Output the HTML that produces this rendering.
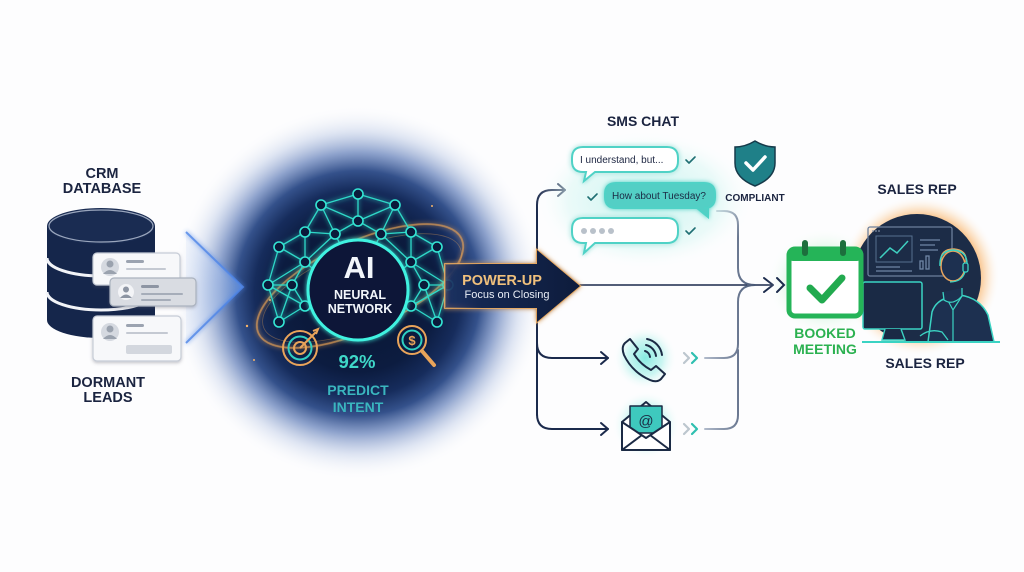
<!DOCTYPE html>
<html><head><meta charset="utf-8"><style>
html,body{margin:0;padding:0;background:#fff;}
svg{display:block;}
text{font-family:"Liberation Sans",Arial,sans-serif;}
</style></head><body>
<svg width="1024" height="572" viewBox="0 0 1024 572" xmlns="http://www.w3.org/2000/svg">
<defs>
<radialGradient id="dark" cx="358" cy="293" r="188" gradientUnits="userSpaceOnUse">
<stop offset="0" stop-color="#081530"/>
<stop offset="0.42" stop-color="#0c1c40"/>
<stop offset="0.55" stop-color="#162c5c"/>
<stop offset="0.65" stop-color="#34518b"/>
<stop offset="0.75" stop-color="#7b93c4" stop-opacity="0.85"/>
<stop offset="0.86" stop-color="#c5d1e9" stop-opacity="0.55"/>
<stop offset="1" stop-color="#ffffff" stop-opacity="0"/>
</radialGradient>
<linearGradient id="chev" x1="186" y1="0" x2="243" y2="0" gradientUnits="userSpaceOnUse">
<stop offset="0" stop-color="#d6e2f6" stop-opacity="0.3"/>
<stop offset="0.6" stop-color="#a9c2ee" stop-opacity="0.6"/>
<stop offset="1" stop-color="#5d8ee0" stop-opacity="0.85"/>
</linearGradient>
<linearGradient id="pw" x1="440" y1="0" x2="580" y2="0" gradientUnits="userSpaceOnUse">
<stop offset="0" stop-color="#1e3566" stop-opacity="0.4"/>
<stop offset="0.3" stop-color="#132650"/>
<stop offset="1" stop-color="#0e1c3c"/>
</linearGradient>
<linearGradient id="coll" x1="700" y1="0" x2="760" y2="0" gradientUnits="userSpaceOnUse">
<stop offset="0" stop-color="#b9c3d2"/>
<stop offset="1" stop-color="#3d4d6c"/>
</linearGradient>
<radialGradient id="tealglow">
<stop offset="0" stop-color="#7fe9df" stop-opacity="0.95"/>
<stop offset="0.55" stop-color="#a9f0e9" stop-opacity="0.6"/>
<stop offset="1" stop-color="#ffffff" stop-opacity="0"/>
</radialGradient>
<radialGradient id="greenglow">
<stop offset="0" stop-color="#8be6a6" stop-opacity="0.9"/>
<stop offset="0.6" stop-color="#bff1cd" stop-opacity="0.5"/>
<stop offset="1" stop-color="#ffffff" stop-opacity="0"/>
</radialGradient>
<radialGradient id="orglow">
<stop offset="0.7" stop-color="#f7a550" stop-opacity="0.9"/>
<stop offset="0.85" stop-color="#fbd2a4" stop-opacity="0.5"/>
<stop offset="1" stop-color="#ffffff" stop-opacity="0"/>
</radialGradient>
<radialGradient id="smsglow" cx="0.5" cy="0.5" r="0.5">
<stop offset="0" stop-color="#bff2ec" stop-opacity="0.9"/>
<stop offset="0.7" stop-color="#def8f5" stop-opacity="0.6"/>
<stop offset="1" stop-color="#ffffff" stop-opacity="0"/>
</radialGradient>
<filter id="glowT" x="-30%" y="-30%" width="160%" height="160%">
<feGaussianBlur in="SourceGraphic" stdDeviation="2.5" result="b"/>
<feMerge><feMergeNode in="b"/><feMergeNode in="SourceGraphic"/></feMerge>
</filter>
<filter id="shadow" x="-20%" y="-20%" width="140%" height="160%">
<feDropShadow dx="0" dy="1.5" stdDeviation="1.5" flood-color="#556" flood-opacity="0.35"/>
</filter>
</defs>

<rect width="1024" height="572" fill="#fdfdfe"/>

<!-- center dark glow -->
<circle cx="358" cy="293" r="188" fill="url(#dark)"/>

<!-- left chevron -->
<polygon points="186,232 243,287 186,343" fill="url(#chev)"/>
<polyline points="186,232 243,287 186,343" fill="none" stroke="#4f86e8" stroke-width="2" opacity="0.85" filter="url(#glowT)"/>

<!-- CRM labels -->
<g font-weight="bold" font-size="14.5" fill="#1b2440" text-anchor="middle">
<text x="102" y="178">CRM</text>
<text x="102" y="193">DATABASE</text>
<text x="108" y="387">DORMANT</text>
<text x="108" y="402">LEADS</text>
</g>

<!-- database -->
<path d="M47,226 V320 A54,18 0 0 0 155,320 V226 Z" fill="#15264b"/>
<ellipse cx="101" cy="226" rx="54" ry="18" fill="#1a2c52"/>
<ellipse cx="101" cy="226" rx="52" ry="16" fill="none" stroke="#9aa6bd" stroke-width="1.2"/>
<path d="M47,258 A54,18 0 0 0 155,258" fill="none" stroke="#f2f4f8" stroke-width="3"/>
<path d="M47,292 A54,18 0 0 0 155,292" fill="none" stroke="#f2f4f8" stroke-width="3"/>

<!-- cards -->
<g filter="url(#shadow)">
<rect x="93" y="253" width="87" height="32" rx="4" fill="#f7f8fa" stroke="#c6ccd6" stroke-width="1.2"/>
<rect x="110" y="278" width="86" height="28" rx="4" fill="#d9dce2" stroke="#aab2be" stroke-width="1.2"/>
<rect x="93" y="316" width="88" height="45" rx="4" fill="#f7f8fa" stroke="#c6ccd6" stroke-width="1.2"/>
</g>
<circle cx="110" cy="267" r="9" fill="#d5d9e0"/>
<circle cx="110" cy="264" r="3.5" fill="#9aa2ae"/><path d="M103,274 Q110,266 117,274" fill="#9aa2ae"/>
<rect x="126" y="260" width="18" height="3" rx="1.5" fill="#9ba3b0"/>
<rect x="126" y="268" width="40" height="2" rx="1" fill="#c4c9d2"/>
<circle cx="126" cy="292" r="8" fill="#f3f4f7"/>
<circle cx="126" cy="289.5" r="3" fill="#8d95a3"/><path d="M120,298 Q126,291 132,298" fill="#8d95a3"/>
<rect x="141" y="285" width="18" height="3" rx="1.5" fill="#8d95a3"/>
<rect x="141" y="293" width="42" height="2" rx="1" fill="#a6adb9"/>
<rect x="141" y="299" width="30" height="2" rx="1" fill="#a6adb9"/>
<circle cx="110" cy="332" r="9" fill="#d5d9e0"/>
<circle cx="110" cy="329" r="3.5" fill="#9aa2ae"/><path d="M103,339 Q110,331 117,339" fill="#9aa2ae"/>
<rect x="126" y="324" width="18" height="3" rx="1.5" fill="#9ba3b0"/>
<rect x="126" y="332" width="42" height="2" rx="1" fill="#c4c9d2"/>
<rect x="126" y="345" width="46" height="9" rx="2" fill="#d3d7de"/>

<!-- orange orbit -->
<g fill="none" stroke="#f0a654" stroke-linecap="round">
<ellipse cx="360" cy="286" rx="112" ry="44" transform="rotate(-25 360 286)" stroke-width="1.8" opacity="0.7" filter="url(#glowT)"/>
<ellipse cx="362" cy="288" rx="106" ry="40" transform="rotate(-22 362 288)" stroke-width="0.8" opacity="0.35"/>
</g>
<g fill="#f6b469">
<circle cx="247" cy="326" r="1.2"/><circle cx="254" cy="360" r="1"/><circle cx="432" cy="206" r="1"/><circle cx="270" cy="300" r="1"/>
</g>

<!-- neural network -->
<g stroke="#2fd9c8" stroke-width="1.3" fill="none" filter="url(#glowT)">
<path d="M358,194 L321,205 M358,194 L395,205 M358,194 L358,221 M321,205 L358,221 M395,205 L358,221
M321,205 L305,232 M321,205 L335,234 M358,221 L335,234 M358,221 L381,234 M395,205 L411,232 M395,205 L381,234
M305,232 L335,234 M411,232 L381,234 M305,232 L279,247 M411,232 L437,247 M305,232 L305,262 M411,232 L411,262
M335,234 L305,262 M381,234 L411,262 M279,247 L305,262 M437,247 L411,262 M279,247 L268,285 M437,247 L448,285
M305,262 L268,285 M411,262 L448,285 M305,262 L292,285 M411,262 L424,285 M268,285 L292,285 M448,285 L424,285
M268,285 L305,306 M448,285 L411,306 M292,285 L305,306 M424,285 L411,306 M268,285 L279,322 M448,285 L437,322
M305,306 L279,322 M411,306 L437,322 M292,285 L279,322 M424,285 L437,322 M279,247 L305,232
M335,234 L340,244 M381,234 L376,244 M305,262 L312,268 M411,262 L404,268 M305,306 L311,304 M411,306 L405,304"/>
</g>
<g fill="#0b1a3a" stroke="#34e6d4" stroke-width="1.6">
<circle cx="358" cy="194" r="5"/><circle cx="321" cy="205" r="5"/><circle cx="395" cy="205" r="5"/>
<circle cx="358" cy="221" r="5"/><circle cx="305" cy="232" r="5"/><circle cx="411" cy="232" r="5"/>
<circle cx="335" cy="234" r="5"/><circle cx="381" cy="234" r="5"/><circle cx="279" cy="247" r="5"/>
<circle cx="437" cy="247" r="5"/><circle cx="305" cy="262" r="5"/><circle cx="411" cy="262" r="5"/>
<circle cx="268" cy="285" r="5"/><circle cx="448" cy="285" r="5"/><circle cx="292" cy="285" r="5"/>
<circle cx="424" cy="285" r="5"/><circle cx="305" cy="306" r="5"/><circle cx="411" cy="306" r="5"/>
<circle cx="279" cy="322" r="5"/><circle cx="437" cy="322" r="5"/>
</g>
<circle cx="358" cy="290" r="50" fill="#0a1838" stroke="#3ff2e0" stroke-width="3" filter="url(#glowT)"/>
<g text-anchor="middle" font-weight="bold" fill="#f2f6fb">
<text x="359" y="278" font-size="31">AI</text>
<text x="360" y="299" font-size="12.5">NEURAL</text>
<text x="360" y="313" font-size="12.5">NETWORK</text>
</g>

<!-- target icon -->
<g fill="none" stroke-width="2">
<circle cx="300" cy="348" r="17" stroke="#e9a45a"/>
<circle cx="300" cy="348" r="11.5" stroke="#2fd0c2"/>
<circle cx="300" cy="348" r="6" stroke="#e9a45a"/>
<path d="M300,348 L316,332" stroke="#e9a45a"/>
<path d="M313,331 L318,329 L316,334" stroke="#e9a45a"/>
</g>
<!-- dollar magnifier -->
<g fill="none" stroke-width="2">
<circle cx="412" cy="340" r="14" stroke="#e9a45a"/>
<circle cx="412" cy="340" r="9.5" stroke="#2fd0c2"/>
<path d="M422,351 L434,365" stroke="#e9a45a" stroke-width="4" stroke-linecap="round"/>
</g>
<text x="412" y="345" font-size="13" font-weight="bold" fill="#e9a45a" text-anchor="middle">$</text>

<g text-anchor="middle" font-weight="bold">
<text x="357" y="368" font-size="18.5" fill="#3fd8c8">92%</text>
<text x="358" y="395" font-size="14" fill="#3ab6bf">PREDICT</text>
<text x="358" y="412" font-size="14" fill="#3ab6bf">INTENT</text>
</g>

<!-- connector lines (left branching) -->
<g fill="none" stroke="#1b2a4c" stroke-width="2" stroke-linecap="round" stroke-linejoin="round">
<path d="M537,415 V205 Q537,190 552,190 H565"/>
<path d="M558,184 L565,190 L558,196"/>
<path d="M537,343 Q537,358 552,358 H608"/>
<path d="M601,352 L608,358 L601,364"/>
<path d="M537,414 Q537,429 552,429 H608"/>
<path d="M601,423 L608,429 L601,435"/>
<path d="M578,285 H772" stroke-width="1.6"/>
<path d="M764,278 L773,285 L764,292"/>
</g>

<!-- power-up arrow -->
<polygon points="445,264 537,264 537,250 580,286 537,322 537,308 445,308" fill="url(#pw)" stroke="#e9a95e" stroke-width="1.8" filter="url(#glowT)"/>
<polygon points="445,264 537,264 537,250 580,286 537,322 537,308 445,308" fill="url(#pw)"/>
<text x="502" y="285" font-size="14.5" font-weight="bold" fill="#f0c07c" text-anchor="middle">POWER-UP</text>
<text x="507" y="298" font-size="11" fill="#e8edf6" text-anchor="middle">Focus on Closing</text>

<!-- right collector lines -->
<g fill="none" stroke="url(#coll)" stroke-width="2" stroke-linecap="round">
<path d="M717,211 H724 Q738,211 738,225 V268 Q738,285 755,285"/>
<path d="M705,358 H724 Q738,358 738,344 V302 Q738,285 755,285"/>
<path d="M705,429 H724 Q738,429 738,415 V350"/>
</g>

<!-- SMS area -->
<ellipse cx="645" cy="200" rx="110" ry="70" fill="url(#smsglow)"/>
<text x="643" y="126" font-size="14" font-weight="bold" fill="#1b2440" text-anchor="middle">SMS CHAT</text>
<g stroke="#4fd2c6" stroke-width="2" filter="url(#glowT)">
<path d="M583,147 H667 Q678,147 678,158 V161 Q678,172 667,172 H595 L584,181 L586,172 H583 Q572,172 572,161 V158 Q572,147 583,147 Z" fill="#ffffff"/>
<path d="M616,183 H704 Q715,183 715,194 V197 Q715,208 704,208 H708 L708,217 L697,208 H616 Q605,208 605,197 V194 Q605,183 616,183 Z" fill="#52cfc5"/>
<path d="M583,218 H667 Q678,218 678,229 V232 Q678,243 667,243 H595 L584,253 L586,243 H583 Q572,243 572,232 V229 Q572,218 583,218 Z" fill="#ffffff"/>
</g>
<text x="580" y="163" font-size="10" fill="#1b2440">I understand, but...</text>
<text x="612" y="199" font-size="10" fill="#1b2a44">How about Tuesday?</text>
<g fill="#b9c1ca"><circle cx="584" cy="231" r="3"/><circle cx="593" cy="231" r="3"/><circle cx="602" cy="231" r="3"/><circle cx="611" cy="231" r="3"/></g>
<g fill="none" stroke="#1f6f73" stroke-width="1.6" stroke-linecap="round" stroke-linejoin="round">
<path d="M686,160 L689,163 L695,157"/>
<path d="M588,197 L591,200 L597,194"/>
<path d="M686,231 L689,234 L695,228"/>
</g>

<!-- shield -->
<path d="M755,141 Q765,147 775,147 V163 Q775,178 755,186 Q735,178 735,163 V147 Q745,147 755,141 Z" fill="#1f8088" stroke="#163a4a" stroke-width="1.5"/>
<path d="M746,163 L753,170 L765,157" fill="none" stroke="#ffffff" stroke-width="3.5" stroke-linecap="round" stroke-linejoin="round"/>
<text x="755" y="201" font-size="10" font-weight="bold" fill="#1b2440" text-anchor="middle">COMPLIANT</text>

<!-- phone -->
<circle cx="645" cy="358" r="32" fill="url(#tealglow)"/>
<g fill="none" stroke="#1b2a44" stroke-width="2" stroke-linecap="round" stroke-linejoin="round">
<path d="M630,339 L625,343 Q621,347 624,355 Q632,372 650,380 Q657,383 661,379 L665,374 L656,366 L651,370 Q640,364 634,354 L638,349 Z"/>
<path d="M645,351 A7,7 0 0 1 650,357"/>
<path d="M646,345 A13,13 0 0 1 656,356"/>
<path d="M647,339 A19,19 0 0 1 662,355"/>
</g>
<g fill="none" stroke-width="2.2" stroke-linecap="round" stroke-linejoin="round">
<path d="M684,353 L689,358 L684,363" stroke="#bcc6ce"/>
<path d="M692,353 L697,358 L692,363" stroke="#2fbfb0"/>
<path d="M684,424 L689,429 L684,434" stroke="#bcc6ce"/>
<path d="M692,424 L697,429 L692,434" stroke="#2fbfb0"/>
</g>

<!-- email -->
<circle cx="646" cy="425" r="34" fill="url(#tealglow)"/>
<g stroke="#1b2a44" stroke-width="2" stroke-linejoin="round">
<polygon points="622,422 646,402 670,422 670,450 622,450" fill="#ffffff"/>
<rect x="630" y="406" width="32" height="27" fill="#3ec9be" stroke-width="1.5"/>
<path d="M622,422 L646,438 L670,422 V450 H622 Z" fill="#ffffff"/>
<path d="M622,450 L642,435 M670,450 L650,435" fill="none"/>
</g>
<text x="646" y="426" font-size="15" fill="#1b2a44" text-anchor="middle">@</text>

<!-- calendar glow (behind) -->
<ellipse cx="825" cy="282" rx="58" ry="54" fill="url(#greenglow)"/>

<!-- sales rep -->
<circle cx="920" cy="276" r="80" fill="url(#orglow)"/>
<circle cx="917" cy="278" r="64" fill="#1c2c47"/>
<rect x="868" y="227" width="84" height="49" rx="2" fill="none" stroke="#6c7f9c" stroke-width="1.3"/>
<g fill="#8292aa"><circle cx="873" cy="231" r="0.9"/><circle cx="876" cy="231" r="0.9"/><circle cx="879" cy="231" r="0.9"/></g>
<path d="M880,258 L890,248 L897,253 L908,241" fill="none" stroke="#3fcfc0" stroke-width="1.5"/>
<rect x="876" y="236" width="36" height="26" fill="none" stroke="#56708f" stroke-width="1"/>
<g stroke="#6f86a6" stroke-width="1.3"><path d="M920,240 H940 M920,245 H935 M920,250 H938 M876,267 H900 M876,271 H912"/></g>
<g fill="none" stroke="#6f86a6" stroke-width="1.3"><rect x="920" y="261" width="3" height="8"/><rect x="926" y="256" width="3" height="13"/></g>
<!-- person -->
<path d="M928,342 L932,312 Q936,300 950,297 L960,295 Q980,298 988,315 L994,342 Z" fill="#1d3050" stroke="#3bd3c3" stroke-width="1.5"/>
<path d="M946,297 L953,310 L962,296 M953,310 V342" fill="none" stroke="#3bd3c3" stroke-width="1.2"/>
<path d="M943,292 L944,300 Q953,306 962,296 L962,288" fill="#1d3050" stroke="#3bd3c3" stroke-width="1.3"/>
<ellipse cx="953" cy="266" rx="12" ry="15" fill="#1d3050" stroke="#e9a55e" stroke-width="1.5"/>
<path d="M941,262 Q940,249 954,249 Q967,250 966,262" fill="none" stroke="#e9a55e" stroke-width="1.5"/>
<path d="M940,266 Q939,251 953,250 Q968,251 967,266" fill="none" stroke="#3bd3c3" stroke-width="1.4"/>
<rect x="963" y="263" width="5" height="9" rx="2" fill="#1d3050" stroke="#3bd3c3" stroke-width="1.3"/>
<path d="M965,272 Q962,282 950,282" fill="none" stroke="#3bd3c3" stroke-width="1.3"/>
<!-- front monitor -->
<rect x="863" y="282" width="59" height="47" rx="2" fill="#1a2a45" stroke="#3bd3c3" stroke-width="1.5"/>
<path d="M885,329 L882,340 H905 L901,329" fill="#1a2a45" stroke="#3bd3c3" stroke-width="1.4"/>
<path d="M920,336 Q930,328 942,332 L948,340" fill="none" stroke="#3bd3c3" stroke-width="1.3"/>
<path d="M862,342 H1000" stroke="#3bd3c3" stroke-width="2"/>

<!-- calendar -->
<rect x="789" y="249" width="72" height="67" rx="6" fill="#ffffff" stroke="#25b458" stroke-width="5"/>
<rect x="789" y="249" width="72" height="12" rx="4" fill="#25b458"/>
<rect x="802" y="240" width="6" height="16" rx="3" fill="#1d6f3d"/>
<rect x="840" y="240" width="6" height="16" rx="3" fill="#1d6f3d"/>
<path d="M810,288 L822,300 L842,278" fill="none" stroke="#22aa4f" stroke-width="7" stroke-linecap="round" stroke-linejoin="round"/>
<path d="M777,278 L784,285 L777,292" fill="none" stroke="#1b2a4c" stroke-width="2" stroke-linecap="round"/>

<g text-anchor="middle" font-weight="bold" font-size="14">
<text x="825" y="338" fill="#2bb150">BOOKED</text>
<text x="825" y="354" fill="#2bb150">MEETING</text>
<text x="917" y="194" fill="#1b2440">SALES REP</text>
<text x="925" y="368" fill="#1b2440">SALES REP</text>
</g>
</svg>
</body></html>
